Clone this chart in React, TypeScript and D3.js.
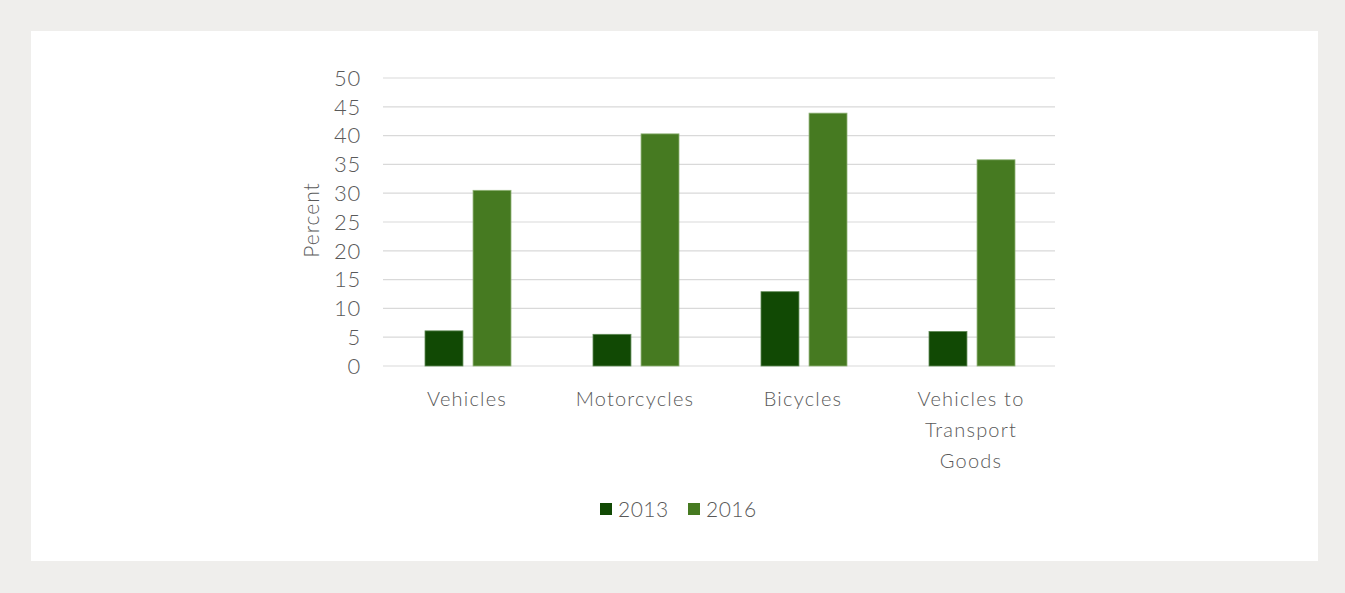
import { useEffect, useRef } from 'react';
import * as d3 from 'd3';

const categories = ['Vehicles', 'Motorcycles', 'Bicycles', 'Vehicles to Transport Goods'];
const categoryLines = [['Vehicles'], ['Motorcycles'], ['Bicycles'], ['Vehicles to', 'Transport', 'Goods']];
const seriesNames = ['2013', '2016'];
const values2013 = [6.1, 5.5, 12.9, 6.0];
const values2016 = [30.5, 40.3, 43.9, 35.8];
const yTicks = [0, 5, 10, 15, 20, 25, 30, 35, 40, 45, 50];

const W = 1345;
const H = 593;
const COLORS = ['#114904', '#467a21'];
const TEXT = '#595959';
const FONT = 'Lato, "Open Sans", sans-serif';

export default function App() {
  const svgRef = useRef<SVGSVGElement | null>(null);

  useEffect(() => {
    const svg = d3.select(svgRef.current);
    svg.selectAll('*').remove();

    svg.append('rect').attr('width', W).attr('height', H).attr('fill', '#efeeec');
    svg.append('rect').attr('x', 31).attr('y', 31).attr('width', 1287).attr('height', 530).attr('fill', '#fff');

    const left = 383, right = 1055, top = 78, bottom = 366;
    const x = d3.scaleBand().domain(categories).range([left, right]);
    const bw = x.bandwidth();
    // pair of bars centred in each category: ~86px wide group
    const groupW = 86;
    const inner = d3.scaleBand().domain(seriesNames)
      .range([(bw - groupW) / 2 + 1, (bw + groupW) / 2 + 1]).paddingInner(0.21);
    const y = d3.scaleLinear().domain([0, 50]).range([bottom, top]);

    // gridlines
    svg.append('g').selectAll('line').data(yTicks).join('line')
      .attr('x1', left).attr('x2', right)
      .attr('y1', d => y(d)).attr('y2', d => y(d))
      .attr('stroke', '#d9d9d9').attr('stroke-width', 1.2);

    // y tick labels
    svg.append('g').selectAll('text').data(yTicks).join('text')
      .attr('x', 361).attr('y', d => y(d)).attr('dy', '0.35em')
      .attr('text-anchor', 'end')
      .attr('font-family', FONT).attr('font-weight', 300).attr('font-size', 22)
      .attr('letter-spacing', 0.8).attr('fill', TEXT)
      .text(d => d);

    // y axis title
    svg.append('text')
      .attr('transform', `translate(312,${(top + bottom) / 2 - 2}) rotate(-90)`)
      .attr('dy', '0.35em')
      .attr('text-anchor', 'middle')
      .attr('font-family', FONT).attr('font-weight', 300).attr('font-size', 21)
      .attr('letter-spacing', 1).attr('fill', TEXT)
      .text('Percent');

    // bars
    const series = [values2013, values2016];
    series.forEach((vals, si) => {
      svg.append('g').selectAll('rect').data(vals).join('rect')
        .attr('x', (_, i) => (x(categories[i]) ?? 0) + (inner(seriesNames[si]) ?? 0))
        .attr('y', d => y(d))
        .attr('width', inner.bandwidth())
        .attr('height', d => y(0) - y(d))
        .attr('fill', COLORS[si])
        .attr('stroke', si === 0 ? '#5f8a55' : '#8fb277')
        .attr('stroke-width', 0.8);
    });

    // category labels
    const cat = svg.append('g');
    categoryLines.forEach((lines, i) => {
      const cx = (x(categories[i]) ?? 0) + bw / 2;
      lines.forEach((ln, li) => {
        cat.append('text')
          .attr('x', cx).attr('y', 406 + li * 31)
          .attr('text-anchor', 'middle')
          .attr('font-family', FONT).attr('font-weight', 300).attr('font-size', 20)
          .attr('letter-spacing', 1.2).attr('fill', TEXT)
          .text(ln);
      });
    });

    // legend
    const legendX = [600, 688];
    seriesNames.forEach((name, i) => {
      svg.append('rect').attr('x', legendX[i]).attr('y', 503).attr('width', 12).attr('height', 12).attr('fill', COLORS[i]);
      svg.append('text').attr('x', legendX[i] + 18).attr('y', 510).attr('dy', '0.35em')
        .attr('font-family', FONT).attr('font-weight', 300).attr('font-size', 21)
        .attr('letter-spacing', 0.5).attr('fill', TEXT)
        .text(name);
    });
  }, []);

  return (
    <svg ref={svgRef} width={W} height={H}
      style={{ position: 'absolute', left: 0, top: 0, display: 'block' }} />
  );
}
